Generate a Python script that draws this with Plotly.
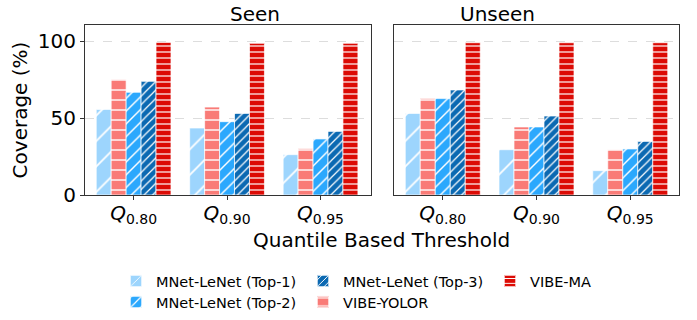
import plotly.graph_objects as go

categories = ["Q0.80", "Q0.90", "Q0.95"]
tick_labels = ["<i>Q</i><sub>0.80</sub>", "<i>Q</i><sub>0.90</sub>", "<i>Q</i><sub>0.95</sub>"]
panels = ["Seen", "Unseen"]

series_names = ["MNet-LeNet (Top-1)", "VIBE-YOLOR", "MNet-LeNet (Top-2)", "MNet-LeNet (Top-3)", "VIBE-MA"]

seen_top1 = [55.6, 43.5, 26.2]
seen_yolor = [75.1, 57.1, 30.1]
seen_top2 = [66.7, 47.6, 36.4]
seen_top3 = [73.8, 53.0, 41.3]
seen_ma = [99.1, 98.5, 98.5]

unseen_top1 = [53.0, 29.4, 15.8]
unseen_yolor = [62.6, 44.2, 29.4]
unseen_top2 = [62.6, 44.2, 29.9]
unseen_top3 = [68.2, 51.3, 34.8]
unseen_ma = [98.9, 98.9, 98.9]

y_ticks = [0, 50, 100]

colors = ["#9dd5fd", "#f97b77", "#2ba8fd", "#0b69b2", "#dc0b05"]
shapes = ["/", "-", "/", "/", "-"]
sizes = [18, 10, 9, 6, 6]
solid = [0.1, 0.14, 0.16, 0.2, 0.2]
legend_of = ["legend", "legend2", "legend2", "legend", "legend"]
legend_rank = [1, 4, 2, 3, 5]

data = {
    "Seen": [seen_top1, seen_yolor, seen_top2, seen_top3, seen_ma],
    "Unseen": [unseen_top1, unseen_yolor, unseen_top2, unseen_top3, unseen_ma],
}

W, H = 697, 320
FONT = "DejaVu Sans"

fig = go.Figure()
for pi, panel in enumerate(panels):
    xa = "x" if pi == 0 else "x2"
    ya = "y" if pi == 0 else "y2"
    for si, name in enumerate(series_names):
        fig.add_trace(go.Bar(
            x=categories, y=data[panel][si], name=name,
            xaxis=xa, yaxis=ya,
            marker=dict(color=colors[si],
                        line=dict(color="rgba(255,255,255,0.7)", width=1),
                        pattern=dict(shape=shapes[si], fgcolor="white", fgopacity=1,
                                     size=sizes[si], solidity=solid[si], fillmode="overlay")),
            showlegend=(pi == 0), legend=legend_of[si], legendgroup=name,
            legendrank=legend_rank[si],
        ))

def px_x(p):
    return p / W

def px_y(p):
    return (H - p) / H

axis_common = dict(showline=True, linecolor="#333333", linewidth=1, mirror=True,
                   ticks="outside", ticklen=4, tickcolor="#333333", automargin=False,
                   tickfont=dict(family=FONT, size=20, color="black"))

fig.update_layout(
    width=W, height=H,
    margin=dict(l=0, r=0, t=0, b=0),
    plot_bgcolor="white", paper_bgcolor="white",
    barmode="group", bargap=0.2, bargroupgap=0,
    font=dict(family=FONT, color="black"),
    xaxis=dict(domain=[px_x(85), px_x(371)], anchor="y", range=[-0.52, 2.54],
               tickvals=categories, ticktext=tick_labels, ticklabelstandoff=-4, **axis_common),
    xaxis2=dict(domain=[px_x(394), px_x(679)], anchor="y2", range=[-0.52, 2.52],
                tickvals=categories, ticktext=tick_labels, ticklabelstandoff=-4, **axis_common),
    yaxis=dict(domain=[px_y(195), px_y(25)], anchor="x", range=[0, 110.4],
               tickvals=y_ticks, showgrid=True, gridcolor="#dddddd", griddash="dash",
               gridwidth=1, zeroline=False,
               title=dict(text="Coverage (%)", font=dict(family=FONT, size=20), standoff=4),
               **axis_common),
    yaxis2=dict(domain=[px_y(195), px_y(25)], anchor="x2", range=[0, 110.4],
                tickvals=y_ticks, showticklabels=False, ticks="", showgrid=True,
                gridcolor="#dddddd", griddash="dash", gridwidth=1, zeroline=False,
                showline=True, linecolor="#333333", linewidth=1, mirror=True, automargin=False),
    legend=dict(orientation="h", x=px_x(116), y=px_y(281), xanchor="left", yanchor="middle",
                entrywidth=142, font=dict(family=FONT, size=14.5), traceorder="normal",
                bgcolor="rgba(0,0,0,0)", itemsizing="constant"),
    legend2=dict(orientation="h", x=px_x(116), y=px_y(302), xanchor="left", yanchor="middle",
                 entrywidth=142, font=dict(family=FONT, size=14.5), traceorder="normal",
                 bgcolor="rgba(0,0,0,0)", itemsizing="constant"),
    annotations=[
        dict(text="Seen", x=px_x(228), y=px_y(14), xref="paper", yref="paper",
             showarrow=False, font=dict(family=FONT, size=20), yanchor="middle"),
        dict(text="Unseen", x=px_x(536.5), y=px_y(14), xref="paper", yref="paper",
             showarrow=False, font=dict(family=FONT, size=20), yanchor="middle"),
        dict(text="Quantile Based Threshold", x=px_x(381), y=px_y(240), xref="paper", yref="paper",
             showarrow=False, font=dict(family=FONT, size=20), yanchor="middle"),
    ],
)

fig.write_html("out.html", config={"displayModeBar": False},
               post_script="document.body.style.margin='0px';document.body.style.overflow='hidden';")
